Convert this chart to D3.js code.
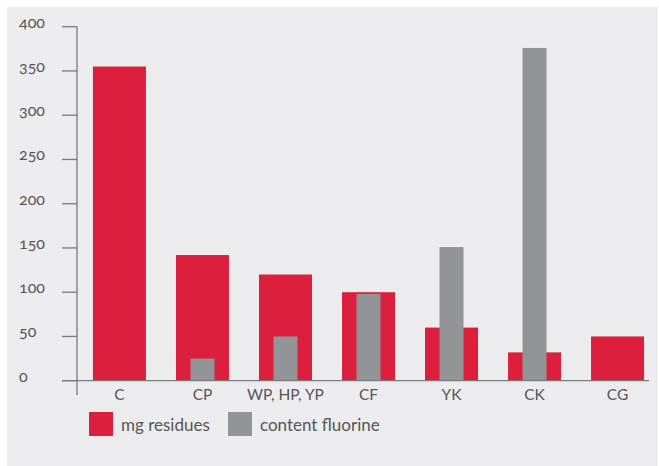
<!DOCTYPE html>
<html>
<head>
<meta charset="utf-8">
<script src="https://cdn.jsdelivr.net/npm/d3@7"></script>
<style>
  body { margin: 0; background: #fff; }
  text { font-family: Lato, "Open Sans", sans-serif; font-variant-numeric: oldstyle-nums; fill: #555557; }
</style>
</head>
<body>
<div id="chart"></div>
<script>
const categories = ["C", "CP", "WP, HP, YP", "CF", "YK", "CK", "CG"];
const residues = [355, 142, 120, 100, 60, 32, 50];
const fluorine = [null, 25, 50, 98, 151, 376, null];
const yTicks = [0, 50, 100, 150, 200, 250, 300, 350, 400];
const seriesNames = ["mg residues", "content fluorine"];
const colors = ["#db1f3c", "#939498"];

const width = 659, height = 466;

const svg = d3.select("#chart").append("svg")
    .attr("width", width).attr("height", height);

svg.append("rect")
    .attr("x", 7).attr("y", 7)
    .attr("width", 651).attr("height", height - 7)
    .attr("fill", "#ececee");

const x = d3.scaleBand()
    .domain(categories)
    .range([78, 659])
    .paddingInner(30 / 83)
    .paddingOuter(0.18);

const y = d3.scaleLinear()
    .domain([0, 400])
    .range([380.7, 26.7]);

const axisColor = "#7a7a7c";

// y axis
svg.append("line")
    .attr("x1", 77).attr("x2", 77)
    .attr("y1", y(400)).attr("y2", 395)
    .attr("stroke", axisColor).attr("stroke-width", 1.3);

svg.append("g").selectAll("line")
    .data(yTicks)
    .enter().append("line")
    .attr("x1", 62).attr("x2", 77)
    .attr("y1", d => y(d)).attr("y2", d => y(d))
    .attr("stroke", axisColor).attr("stroke-width", 1.3);

svg.append("g").selectAll("text")
    .data(yTicks)
    .enter().append("text")
    .attr("x", 19)
    .attr("y", d => y(d) + 1)
    .attr("font-size", 16)
    .text(d => d);

// bars
svg.append("g").selectAll("rect")
    .data(categories)
    .enter().append("rect")
    .attr("x", d => x(d))
    .attr("width", x.bandwidth())
    .attr("y", (d, i) => y(residues[i]))
    .attr("height", (d, i) => y(0) - y(residues[i]))
    .attr("fill", colors[0]);

const gw = 24;
svg.append("g").selectAll("rect")
    .data(categories.filter((d, i) => fluorine[i] != null))
    .enter().append("rect")
    .attr("x", d => x(d) + x.bandwidth() / 2 - gw / 2)
    .attr("width", gw)
    .attr("y", d => y(fluorine[categories.indexOf(d)]))
    .attr("height", d => y(0) - y(fluorine[categories.indexOf(d)]))
    .attr("fill", colors[1]);

// x axis
svg.append("line")
    .attr("x1", 62).attr("x2", 649)
    .attr("y1", y(0)).attr("y2", y(0))
    .attr("stroke", axisColor).attr("stroke-width", 1.3);

svg.append("g").selectAll("text")
    .data(categories)
    .enter().append("text")
    .attr("x", d => x(d) + x.bandwidth() / 2)
    .attr("y", 400)
    .attr("text-anchor", "middle")
    .attr("font-size", 15.5)
    .text(d => d);

// legend
const legendX = [89, 228];
const legend = svg.append("g").selectAll("g")
    .data(seriesNames)
    .enter().append("g")
    .attr("transform", (d, i) => `translate(${legendX[i]}, 412)`);

legend.append("rect")
    .attr("width", 24).attr("height", 24)
    .attr("fill", (d, i) => colors[i]);

legend.append("text")
    .attr("x", 32).attr("y", 19)
    .attr("font-size", 17)
    .text(d => d);
</script>
</body>
</html>
